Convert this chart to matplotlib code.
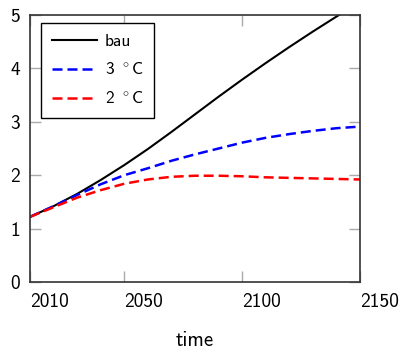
import matplotlib
matplotlib.use("Agg")
import matplotlib.pyplot as plt
from matplotlib.ticker import FixedLocator

years = [2010, 2020, 2030, 2040, 2050, 2060, 2070, 2080, 2090, 2100, 2110, 2120, 2130, 2140, 2150]
bau = [1.22, 1.42, 1.65, 1.91, 2.19, 2.49, 2.81, 3.14, 3.47, 3.79, 4.10, 4.40, 4.69, 4.97, 5.24]
c3 = [1.22, 1.42, 1.63, 1.83, 2.00, 2.13, 2.27, 2.39, 2.50, 2.61, 2.70, 2.77, 2.83, 2.88, 2.91]
c2 = [1.22, 1.40, 1.58, 1.72, 1.84, 1.92, 1.97, 1.99, 1.99, 1.98, 1.96, 1.95, 1.94, 1.93, 1.92]
xticks = [2010, 2050, 2100, 2150]
yticks = [0, 1, 2, 3, 4, 5]
labels = ["bau", r"3 $^\circ$C", r"2 $^\circ$C"]

plt.rcParams['font.family'] = ['cmss10', 'DejaVu Sans']
plt.rcParams['mathtext.fontset'] = 'cm'
plt.rcParams['axes.formatter.use_mathtext'] = True

fig = plt.figure(figsize=(4.06, 3.5), dpi=100)
ax = fig.add_axes([30/406, 68/350, 330/406, 267/350])

ax.plot(years, bau, color='black', lw=1.5, label=labels[0])
ax.plot(years, c3, color='#0000ff', lw=1.8, dashes=(4, 2), label=labels[1])
ax.plot(years, c2, color='#ff0000', lw=1.8, dashes=(4, 2), label=labels[2])

ax.set_xlim(2010, 2150)
ax.set_ylim(0, 5)
ax.xaxis.set_major_locator(FixedLocator(xticks))
ax.yaxis.set_major_locator(FixedLocator(yticks))
ax.set_xticklabels([str(t) for t in xticks], ha='left')
ax.set_yticklabels([str(t) for t in yticks])
ax.tick_params(direction='in', length=8, width=1, color='#aaaaaa',
               top=True, right=True, labelsize=14)
ax.tick_params(axis='x', pad=8)
ax.tick_params(axis='y', pad=7)
for s in ax.spines.values():
    s.set_color('#333333')
    s.set_linewidth(1.2)

ax.set_xlabel('time', fontsize=15, labelpad=14)

leg = ax.legend(loc='upper left', bbox_to_anchor=(0.033, 0.97), borderaxespad=0,
                fontsize=12.5, handlelength=2.6, handletextpad=0.45, labelspacing=0.74,
                fancybox=False, framealpha=1, edgecolor='black', borderpad=0.62)
leg.get_frame().set_linewidth(1.0)

fig.savefig('out.png', dpi=100)
